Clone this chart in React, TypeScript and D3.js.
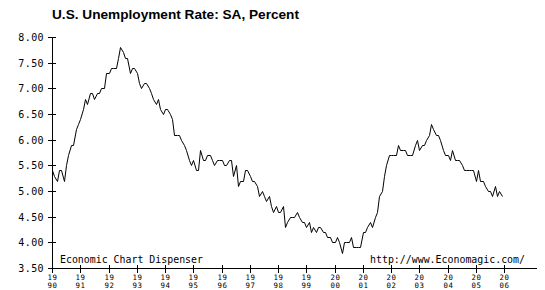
import React from "react";
import * as d3 from "d3";

// Monthly, seasonally adjusted, Jan 1990 – Dec 2005
const startYear = 1990;
const unemploymentRate: number[] = [
  5.4, 5.3, 5.2, 5.4, 5.4, 5.2, 5.5, 5.7, 5.9, 5.9, 6.2, 6.3, // 1990
  6.4, 6.6, 6.8, 6.7, 6.9, 6.9, 6.8, 6.9, 6.9, 7.0, 7.0, 7.3, // 1991
  7.3, 7.4, 7.4, 7.4, 7.6, 7.8, 7.7, 7.6, 7.6, 7.3, 7.4, 7.4, // 1992
  7.3, 7.1, 7.0, 7.1, 7.1, 7.0, 6.9, 6.8, 6.7, 6.8, 6.6, 6.5, // 1993
  6.6, 6.6, 6.5, 6.4, 6.1, 6.1, 6.1, 6.0, 5.9, 5.8, 5.6, 5.5, // 1994
  5.6, 5.4, 5.4, 5.8, 5.6, 5.6, 5.7, 5.7, 5.6, 5.5, 5.6, 5.6, // 1995
  5.6, 5.5, 5.5, 5.6, 5.6, 5.3, 5.5, 5.1, 5.2, 5.2, 5.4, 5.4, // 1996
  5.3, 5.2, 5.2, 5.1, 4.9, 5.0, 4.9, 4.8, 4.9, 4.7, 4.6, 4.7, // 1997
  4.6, 4.6, 4.7, 4.3, 4.4, 4.5, 4.5, 4.5, 4.6, 4.5, 4.4, 4.4, // 1998
  4.3, 4.4, 4.2, 4.3, 4.2, 4.3, 4.3, 4.2, 4.2, 4.1, 4.1, 4.0, // 1999
  4.0, 4.1, 4.0, 3.8, 4.0, 4.0, 4.0, 4.1, 3.9, 3.9, 3.9, 3.9, // 2000
  4.2, 4.2, 4.3, 4.4, 4.3, 4.5, 4.6, 4.9, 5.0, 5.3, 5.5, 5.7, // 2001
  5.7, 5.7, 5.7, 5.9, 5.8, 5.8, 5.8, 5.7, 5.7, 5.7, 5.9, 6.0, // 2002
  5.8, 5.9, 5.9, 6.0, 6.1, 6.3, 6.2, 6.1, 6.1, 6.0, 5.8, 5.7, // 2003
  5.7, 5.6, 5.8, 5.6, 5.6, 5.6, 5.5, 5.4, 5.4, 5.4, 5.4, 5.4, // 2004
  5.2, 5.4, 5.2, 5.2, 5.1, 5.0, 5.0, 4.9, 5.1, 4.9, 5.0, 4.9, // 2005
];

const yTickValues: number[] = [3.5, 4.0, 4.5, 5.0, 5.5, 6.0, 6.5, 7.0, 7.5, 8.0];
const xTickYears: number[] = [
  1990, 1991, 1992, 1993, 1994, 1995, 1996, 1997, 1998, 1999, 2000, 2001, 2002,
  2003, 2004, 2005, 2006,
];

const title = "U.S. Unemployment Rate: SA, Percent";
const leftNote = "Economic Chart Dispenser";
const rightNote = "http://www.Economagic.com/";

const W = 545;
const H = 290;

export default function App() {
  const x = d3.scaleLinear().domain([1990, 2006]).range([52, 504]);
  const y = d3.scaleLinear().domain([3.5, 8.0]).range([268, 37]);

  const pts: [number, number][] = unemploymentRate.map((v, i) => [
    startYear + i / 12,
    v,
  ]);
  const line = d3
    .line<[number, number]>()
    .x((d) => Math.round(x(d[0])) + 0.5)
    .y((d) => Math.round(y(d[1])) + 0.5);

  const mono = "'DejaVu Sans Mono', monospace";
  const axisX0 = 52.5;
  const axisY0 = 268.5;

  return (
    <svg
      width={W}
      height={H}
      style={{ position: "absolute", left: 0, top: 0, background: "#fff" }}
    >
      <rect x={0} y={0} width={W} height={H} fill="#fff" />
      <text
        x={52}
        y={18.5}
        fontFamily="'Liberation Sans', Arial, sans-serif"
        fontWeight="bold"
        fontSize={13.5}
        textLength={247}
        lengthAdjust="spacingAndGlyphs"
        fill="#000"
      >
        {title}
      </text>

      {/* y axis */}
      <line x1={axisX0} x2={axisX0} y1={37} y2={269} stroke="#000" strokeWidth={1} shapeRendering="crispEdges" />
      {yTickValues.map((t) => {
        const yy = Math.round(y(t)) + 0.5;
        return (
          <g key={t}>
            <line x1={48} x2={56} y1={yy} y2={yy} stroke="#000" strokeWidth={1} shapeRendering="crispEdges" />
            <text
              x={44}
              y={yy + 3.5}
              textAnchor="end"
              fontFamily={mono}
              fontSize={10}
              letterSpacing={0.4}
              fill="#000"
            >
              {t.toFixed(2)}
            </text>
          </g>
        );
      })}

      {/* x axis */}
      <line x1={52} x2={537} y1={axisY0} y2={axisY0} stroke="#000" strokeWidth={1} shapeRendering="crispEdges" />
      {xTickYears.map((yr) => {
        const xx = Math.round(x(yr)) + 0.5;
        const s = String(yr);
        return (
          <g key={yr}>
            <line x1={xx} x2={xx} y1={265} y2={273} stroke="#000" strokeWidth={1} shapeRendering="crispEdges" />
            <text x={xx} y={279.8} textAnchor="middle" fontFamily={mono} fontSize={7.4} letterSpacing={0.6} fill="#000">
              {s.slice(0, 2)}
            </text>
            <text x={xx} y={288.3} textAnchor="middle" fontFamily={mono} fontSize={7.4} letterSpacing={0.6} fill="#000">
              {s.slice(2)}
            </text>
          </g>
        );
      })}

      {/* data line */}
      <path d={line(pts) || ""} fill="none" stroke="#000" strokeWidth={1} />

      <text x={60} y={262.5} fontFamily={mono} fontSize={10} fill="#000" textLength={143} lengthAdjust="spacingAndGlyphs">
        {leftNote}
      </text>
      <text x={370} y={262.5} fontFamily={mono} fontSize={10} fill="#000" textLength={155} lengthAdjust="spacingAndGlyphs">
        {rightNote}
      </text>
    </svg>
  );
}
